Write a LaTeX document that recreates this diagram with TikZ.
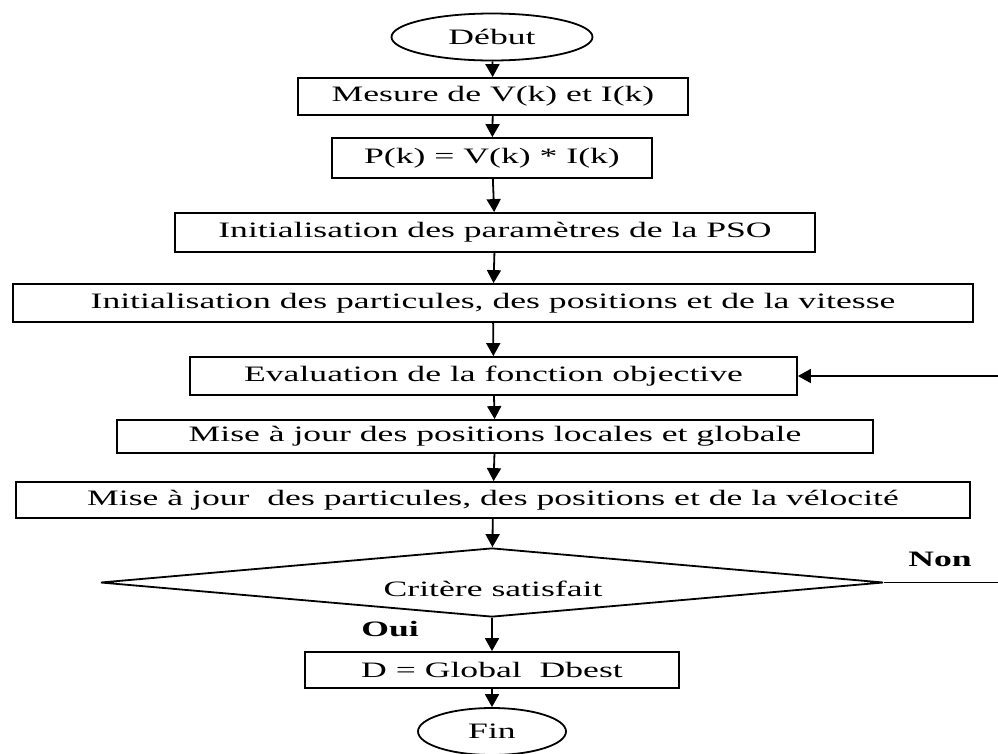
\documentclass[tikz,border=0pt]{standalone}
\usepackage{fontspec}
\setmainfont{Liberation Serif}
\usepackage{graphicx}
\usetikzlibrary{shapes.geometric,arrows.meta}
\newcommand{\sx}[1]{\scalebox{1.62}[1]{#1}}
\tikzset{
  every node/.style={font=\fontsize{22}{26}\selectfont, inner sep=0pt},
  stepbox/.style={draw, line width=1.8pt, rectangle},
  term/.style={draw, line width=1.8pt, ellipse},
  decision/.style={draw, line width=1.8pt, diamond, aspect=11.35},
  flow/.style={line width=1.8pt, -{Triangle[length=13pt,width=14pt]}},
  plain/.style={line width=1.8pt},
  lbl/.style={font=\fontsize{22}{26}\selectfont\bfseries}
}
\begin{document}
\begin{tikzpicture}[x=1pt,y=-1pt]
\useasboundingbox (0,0) rectangle (998,753);
\node[term, minimum width=201pt, minimum height=47pt] (debut) at (492,37) {\sx{Début}};
\node[stepbox, minimum width=390pt, minimum height=37pt] (mesure) at (493,96.5) {\sx{Mesure de V(k) et I(k)}};
\node[stepbox, minimum width=320pt, minimum height=40pt] (pk) at (492,158) {\sx{P(k) = V(k) * I(k)}};
\node[stepbox, minimum width=640pt, minimum height=39pt] (init) at (495,232.5) {\sx{Initialisation des paramètres de la PSO}};
\node[stepbox, minimum width=960pt, minimum height=38pt] (initpart) at (493,303) {\sx{Initialisation des particules, des positions et de la vitesse}};
\node[stepbox, minimum width=607pt, minimum height=38pt] (eval) at (493.5,376) {\sx{Evaluation de la fonction objective}};
\node[stepbox, minimum width=756pt, minimum height=33pt] (maj1) at (495,436.5) {\sx{Mise à jour des positions locales et globale}};
\node[stepbox, minimum width=954pt, minimum height=36pt] (maj2) at (493,500) {\sx{Mise à jour\ \ des particules, des positions et de la vélocité}};
\node[decision, minimum width=783pt, minimum height=69pt] (crit) at (492,582.5) {};
\node (critt) at (493,589) {\sx{Critère satisfait}};
\node[stepbox, minimum width=374pt, minimum height=36pt] (dbest) at (492,670) {\sx{D = Global\ \ Dbest}};
\node[term, minimum width=148pt, minimum height=47pt] (fin) at (492,731.5) {\sx{Fin}};
\node[lbl] (non) at (940,559) {\sx{Non}};
\node[lbl] (oui) at (390,629) {\sx{Oui}};
\coordinate (ra) at (998,582.5);
\coordinate (rb) at (998,376);
\draw[flow] (debut) -- (mesure);
\draw[flow] (mesure) -- (pk);
\draw[flow] (pk) -- (init);
\draw[flow] (init) -- (initpart);
\draw[flow] (initpart) -- (eval);
\draw[flow] (eval) -- (maj1);
\draw[flow] (maj1) -- (maj2);
\draw[flow] (maj2) -- (crit);
\draw[flow] (crit) -- (dbest);
\draw[flow] (dbest) -- (fin);
\draw[plain] (crit.east) -- (ra);
\draw[flow] (rb) -- (eval.east);
\end{tikzpicture}
\end{document}
